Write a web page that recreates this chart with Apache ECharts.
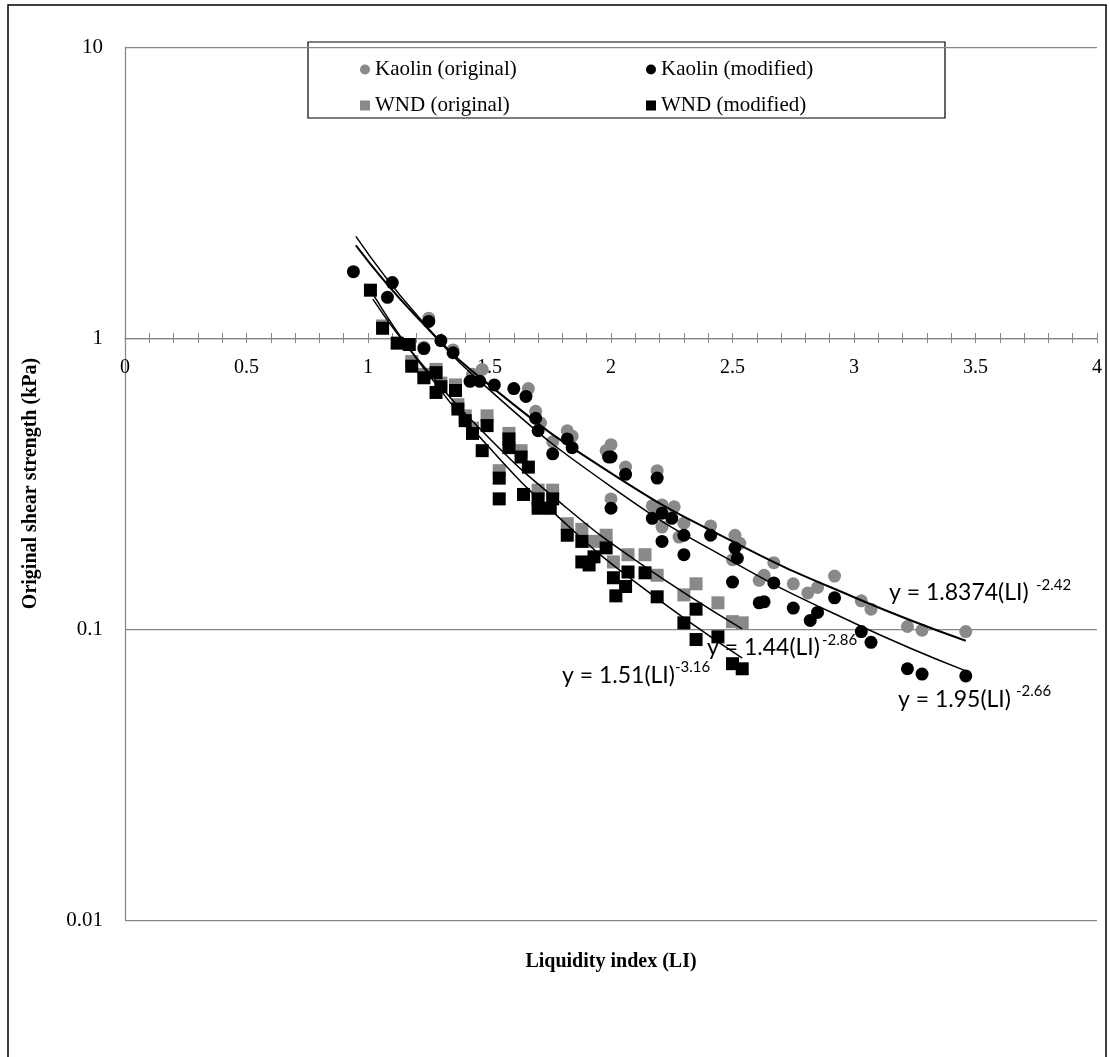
<!DOCTYPE html>
<html>
<head>
<meta charset="utf-8">
<script src="https://cdn.jsdelivr.net/npm/echarts@6.0.0/dist/echarts.min.js"></script>
<style>
  html, body { margin: 0; padding: 0; background: #fff; }
  #chart { width: 1110px; height: 1057px; }
</style>
</head>
<body>
<div id="chart"></div>
<script>
// Kaolin (original) - grey circles
const kaolinOrigLI = [1.25, 1.23, 1.35, 1.43, 1.47, 1.66, 1.69, 1.71, 1.76, 1.82, 1.84, 1.98, 2.00, 2.06, 2.19, 2.00, 2.17, 2.21, 2.26, 2.21, 2.30, 2.28, 2.41, 2.51, 2.53, 2.50, 2.67, 2.63, 2.61, 2.75, 2.81, 2.85, 2.92, 3.03, 3.07, 3.22, 3.28, 3.46];
const kaolinOrigSu = [1.17, 0.93, 0.91, 0.75, 0.78, 0.67, 0.56, 0.51, 0.44, 0.48, 0.46, 0.41, 0.43, 0.36, 0.35, 0.28, 0.265, 0.267, 0.263, 0.224, 0.231, 0.207, 0.226, 0.21, 0.197, 0.173, 0.169, 0.153, 0.147, 0.143, 0.133, 0.139, 0.152, 0.125, 0.117, 0.102, 0.099, 0.098];

// Kaolin (modified) - black circles
const kaolinModLI = [0.94, 1.08, 1.10, 1.25, 1.23, 1.30, 1.35, 1.42, 1.46, 1.52, 1.60, 1.65, 1.69, 1.70, 1.76, 1.82, 1.84, 1.99, 2.00, 2.00, 2.06, 2.19, 2.17, 2.21, 2.25, 2.21, 2.30, 2.30, 2.41, 2.51, 2.52, 2.50, 2.61, 2.63, 2.67, 2.75, 2.82, 2.85, 2.92, 3.03, 3.07, 3.22, 3.28, 3.46];
const kaolinModSu = [1.69, 1.38, 1.55, 1.14, 0.92, 0.98, 0.89, 0.71, 0.71, 0.69, 0.67, 0.63, 0.53, 0.48, 0.40, 0.45, 0.42, 0.39, 0.39, 0.26, 0.34, 0.33, 0.24, 0.25, 0.24, 0.20, 0.21, 0.18, 0.21, 0.19, 0.175, 0.145, 0.123, 0.124, 0.144, 0.118, 0.107, 0.114, 0.128, 0.098, 0.090, 0.073, 0.070, 0.069];

// WND (original) - grey squares
const wndOrigLI = [1.06, 1.18, 1.23, 1.28, 1.30, 1.36, 1.37, 1.40, 1.43, 1.49, 1.54, 1.58, 1.63, 1.70, 1.76, 1.82, 1.88, 1.93, 1.98, 2.01, 2.07, 2.14, 2.19, 2.30, 2.35, 2.44, 2.50, 2.54];
const wndOrigSu = [1.10, 0.83, 0.75, 0.78, 0.70, 0.69, 0.59, 0.54, 0.49, 0.54, 0.35, 0.47, 0.41, 0.30, 0.30, 0.23, 0.22, 0.20, 0.21, 0.17, 0.18, 0.18, 0.153, 0.131, 0.143, 0.123, 0.106, 0.105];

// WND (modified) - black squares
const wndModLI = [1.01, 1.06, 1.12, 1.17, 1.18, 1.23, 1.28, 1.28, 1.30, 1.36, 1.37, 1.40, 1.43, 1.47, 1.49, 1.54, 1.54, 1.58, 1.58, 1.63, 1.64, 1.66, 1.70, 1.70, 1.75, 1.76, 1.82, 1.88, 1.88, 1.91, 1.93, 1.98, 2.01, 2.02, 2.06, 2.07, 2.14, 2.19, 2.30, 2.35, 2.35, 2.44, 2.50, 2.54];
const wndModSu = [1.46, 1.08, 0.96, 0.95, 0.80, 0.73, 0.76, 0.65, 0.68, 0.66, 0.57, 0.52, 0.47, 0.41, 0.50, 0.33, 0.28, 0.45, 0.42, 0.39, 0.29, 0.36, 0.28, 0.26, 0.26, 0.28, 0.21, 0.20, 0.17, 0.166, 0.177, 0.19, 0.15, 0.13, 0.14, 0.157, 0.156, 0.129, 0.105, 0.117, 0.092, 0.094, 0.076, 0.073];

// power trendlines, points
const trendKaolinLI = [0.95, 1.2, 1.5, 2, 2.5, 3, 3.46];
const trendKaolinOrig = [2.080, 1.182, 0.6886, 0.3434, 0.2001, 0.1286, 0.0911];
const trendKaolinMod = [2.235, 1.201, 0.6632, 0.3085, 0.1705, 0.1049, 0.0718];
const trendWndLI = [1.02, 1.2, 1.5, 1.8, 2.1, 2.54];
const trendWndOrig = [1.361, 0.855, 0.4516, 0.2681, 0.1725, 0.1001];
const trendWndMod = [1.418, 0.8488, 0.4193, 0.2357, 0.1448, 0.0794];

const xTicks = [0, 0.5, 1, 1.5, 2, 2.5, 3, 3.5, 4];

const GREY = '#898989';
const AXIS = '#868686';
const SERIF = 'Liberation Serif';
const SANS = 'Lato';

const pairs = (xs, ys) => xs.map((x, i) => [x, ys[i]]);

const chart = echarts.init(document.getElementById('chart'));

const tickAxis = {
  type: 'value', min: xTicks[0], max: xTicks[xTicks.length - 1], interval: 0.5,
  splitLine: { show: false }
};

function trend(name, xs, ys, width) {
  return {
    name: name, type: 'line', smooth: true, showSymbol: false, silent: true,
    data: pairs(xs, ys),
    lineStyle: { color: '#000', width: width },
    z: 5
  };
}

function dots(name, symbol, color, xs, ys) {
  return {
    name: name, type: 'scatter', symbol: symbol, symbolSize: 13,
    itemStyle: { color: color, opacity: 1 }, data: pairs(xs, ys)
  };
}

function eq(main, sup, x, y, sx, sy) {
  return [
    { type: 'text', x: x, y: y, style: { text: main, font: '23px ' + SANS, fill: '#000', verticalAlign: 'middle' } },
    { type: 'text', x: sx, y: sy, style: { text: sup, font: '15px ' + SANS, fill: '#000', verticalAlign: 'middle' } }
  ];
}

const legendText = { fontFamily: SERIF, fontSize: 21, color: '#000' };

const option = {
  animation: false,
  backgroundColor: '#fff',
  grid: [
    { left: 125, right: 13, top: 47, bottom: 137 },
    { left: 125, right: 13, top: 337, height: 1 },
    { left: 125, right: 13, top: 337, height: 1 }
  ],
  legend: [
    {
      data: ['Kaolin (original)', 'WND (original)'],
      orient: 'vertical', left: 355, top: 54, itemGap: 15,
      itemWidth: 10, itemHeight: 10, selectedMode: false, textStyle: legendText
    },
    {
      data: ['Kaolin (modified)', 'WND (modified)'],
      orient: 'vertical', left: 641, top: 54, itemGap: 15,
      itemWidth: 10, itemHeight: 10, selectedMode: false, textStyle: legendText
    }
  ],
  xAxis: [
    { gridIndex: 0, type: 'value', min: 0, max: 4, show: false },
    Object.assign({}, tickAxis, {
      gridIndex: 1,
      axisLine: { show: true, lineStyle: { color: AXIS, width: 1.25 } },
      axisTick: { show: true, length: 5, lineStyle: { color: AXIS } },
      minorTick: { show: true, splitNumber: 5, length: 5, lineStyle: { color: AXIS } },
      axisLabel: { margin: 20, fontFamily: SERIF, fontSize: 20, color: '#000', formatter: v => String(v) }
    }),
    Object.assign({}, tickAxis, {
      gridIndex: 2,
      axisLine: { show: false },
      axisTick: { show: true, inside: true, length: 5, lineStyle: { color: AXIS } },
      minorTick: { show: true, splitNumber: 5, length: 5, lineStyle: { color: AXIS } },
      axisLabel: { show: false }
    })
  ],
  yAxis: [
    {
      gridIndex: 0, type: 'log', logBase: 10, min: 0.01, max: 10,
      name: 'Original shear strength (kPa)', nameLocation: 'middle', nameGap: 84, nameRotate: 90,
      nameTextStyle: { fontFamily: SERIF, fontSize: 20, fontWeight: 'bold', color: '#000' },
      axisLine: { show: true, lineStyle: { color: AXIS, width: 1.25 } },
      axisTick: { show: false },
      splitLine: { show: true, lineStyle: { color: AXIS, width: 1.25 } },
      axisLabel: {
        margin: 22, fontFamily: SERIF, fontSize: 21, color: '#000',
        formatter: v => String(parseFloat(Number(v).toPrecision(2)))
      }
    },
    { gridIndex: 1, type: 'value', show: false },
    { gridIndex: 2, type: 'value', show: false }
  ],
  series: [
    dots('Kaolin (original)', 'circle', GREY, kaolinOrigLI, kaolinOrigSu),
    dots('Kaolin (modified)', 'circle', '#000', kaolinModLI, kaolinModSu),
    dots('WND (original)', 'rect', GREY, wndOrigLI, wndOrigSu),
    dots('WND (modified)', 'rect', '#000', wndModLI, wndModSu),
    trend('fit Kaolin original', trendKaolinLI, trendKaolinOrig, 2),
    trend('fit Kaolin modified', trendKaolinLI, trendKaolinMod, 1.5),
    trend('fit WND original', trendWndLI, trendWndOrig, 1.5),
    trend('fit WND modified', trendWndLI, trendWndMod, 1.5)
  ],
  graphic: [
    { type: 'rect', shape: { x: 8, y: 5, width: 1098, height: 1100 },
      style: { fill: 'none', stroke: '#000', lineWidth: 1.5 }, silent: true },
    { type: 'rect', shape: { x: 308, y: 42, width: 637, height: 76 },
      style: { fill: 'none', stroke: '#000', lineWidth: 1.2 }, silent: true },
    { type: 'text', x: 611, y: 962,
      style: { text: 'Liquidity index (LI)', font: 'bold 20px ' + SERIF, fill: '#000',
               align: 'center', verticalAlign: 'middle' } }
  ].concat(
    eq('y = 1.8374(LI)', '-2.42', 889, 593, 1036, 585),
    eq('y = 1.44(LI)', '-2.86', 707, 648, 822, 640),
    eq('y = 1.51(LI)', '-3.16', 562, 676, 675, 667),
    eq('y = 1.95(LI)', '-2.66', 898, 700, 1016, 691)
  )
};

chart.setOption(option);
</script>
</body>
</html>
